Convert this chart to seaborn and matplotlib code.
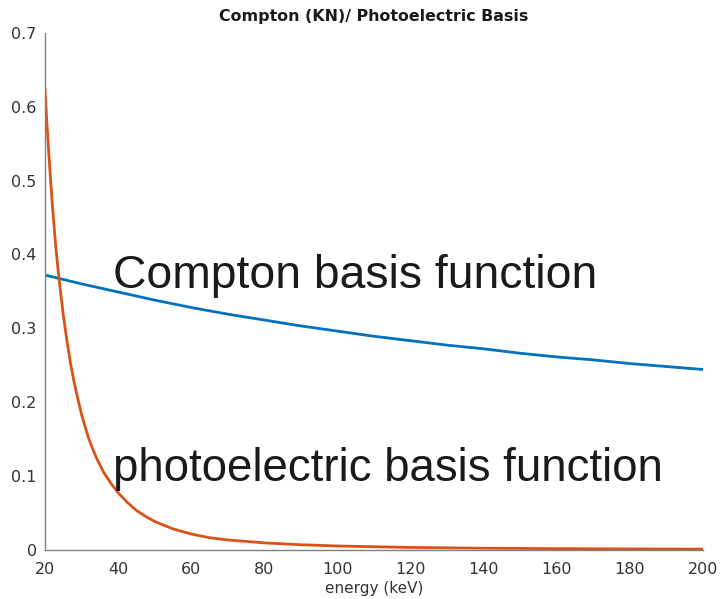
import matplotlib
matplotlib.use("Agg")
import matplotlib.pyplot as plt
import seaborn as sns
import pandas as pd

# Compton (Klein-Nishina) basis function, sampled every 10 keV
compton_energy = [20, 30, 40, 50, 60, 70, 80, 90, 100, 110, 120, 130, 140,
                  150, 160, 170, 180, 190, 200]
compton_value = [0.372, 0.360, 0.349, 0.338, 0.328, 0.319, 0.311, 0.303,
                 0.296, 0.289, 0.283, 0.277, 0.272, 0.266, 0.261, 0.257,
                 0.252, 0.248, 0.244]

# Photoelectric basis function, denser sampling at low energy
photo_energy = [20, 20.5, 21, 21.5, 22, 22.5, 23, 23.5, 24, 25, 26, 27, 28,
                29, 30, 31, 32, 33, 34, 36, 38, 40, 42.5, 45, 47.5, 50, 55,
                60, 65, 70, 80, 90, 100, 120, 140, 160, 180, 200]
photo_value = [0.625, 0.580, 0.540, 0.503, 0.468, 0.437, 0.408, 0.383, 0.360,
               0.318, 0.283, 0.252, 0.226, 0.204, 0.183, 0.166, 0.150, 0.137,
               0.125, 0.105, 0.090, 0.077, 0.064, 0.053, 0.045, 0.038, 0.028,
               0.021, 0.016, 0.013, 0.009, 0.0065, 0.0048, 0.0028, 0.0018,
               0.0012, 0.0008, 0.0006]

x_ticks = [20, 40, 60, 80, 100, 120, 140, 160, 180, 200]
y_ticks = [0, 0.1, 0.2, 0.3, 0.4, 0.5, 0.6, 0.7]
y_tick_labels = ["0", "0.1", "0.2", "0.3", "0.4", "0.5", "0.6", "0.7"]

sns.set_style("white")
plt.rcParams["font.family"] = ["DejaVu Sans"]

compton_df = pd.DataFrame({"energy": compton_energy, "value": compton_value})
photo_df = pd.DataFrame({"energy": photo_energy, "value": photo_value})

fig = plt.figure(figsize=(7.21, 5.99), dpi=100)
ax = fig.add_axes([0.0624, 0.0826, 0.9126, 0.8623])

sns.lineplot(data=compton_df, x="energy", y="value", ax=ax,
             color="#0072BD", linewidth=2.0)
sns.lineplot(data=photo_df, x="energy", y="value", ax=ax,
             color="#D95319", linewidth=2.0)

ax.set_xlim(20, 200)
ax.set_ylim(0, 0.7)
ax.set_xticks(x_ticks)
ax.set_yticks(y_ticks)
ax.set_yticklabels(y_tick_labels)

grey = "#808080"
for side in ["top", "right"]:
    ax.spines[side].set_visible(False)
for side in ["left", "bottom"]:
    ax.spines[side].set_color(grey)
    ax.spines[side].set_linewidth(1.0)
ax.tick_params(axis="both", direction="in", length=4, width=0.8,
               color=grey, labelcolor="#333333", labelsize=11.5)
ax.tick_params(axis="x", pad=9)
ax.tick_params(axis="y", pad=6)

ax.set_xlabel("energy (keV)", fontsize=11, color="#333333", labelpad=3)
ax.set_ylabel("")
ax.set_title("Compton (KN)/ Photoelectric Basis", fontsize=11.4,
             fontweight="bold", color="#1a1a1a", pad=9)

ax.text(38.5, 0.355, "Compton basis function", fontsize=33.3,
        family=["Liberation Sans"], color="#1a1a1a", va="baseline")
ax.text(38.7, 0.0926, "photoelectric basis function", fontsize=32.9,
        family=["Liberation Sans"], color="#1a1a1a", va="baseline")

fig.savefig("out.png", dpi=100, facecolor="white")
